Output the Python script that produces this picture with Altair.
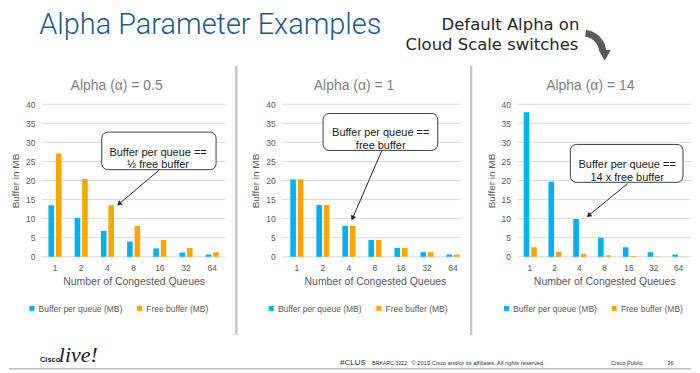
import altair as alt
import pandas as pd

# ---------------- data ----------------
queues = ["1", "2", "4", "8", "16", "32", "64"]
series_names = ["Buffer per queue (MB)", "Free buffer (MB)"]
series_colors = ["#00b0f0", "#ffa500"]

alpha_05_per_queue = [13.5, 10.2, 6.8, 4.0, 2.2, 1.1, 0.6]
alpha_05_free = [27.1, 20.4, 13.5, 8.1, 4.4, 2.3, 1.2]
alpha_1_per_queue = [20.3, 13.6, 8.1, 4.4, 2.3, 1.2, 0.6]
alpha_1_free = [20.3, 13.6, 8.1, 4.4, 2.3, 1.2, 0.6]
alpha_14_per_queue = [37.9, 19.7, 9.9, 5.0, 2.5, 1.2, 0.6]
alpha_14_free = [2.5, 1.3, 0.7, 0.4, 0.2, 0.1, 0.05]

panel_titles = ["Alpha (\u03b1) = 0.5", "Alpha (\u03b1) = 1", "Alpha (\u03b1) = 14"]
callout_texts = [
    "Buffer per queue ==\n\u00bd free buffer",
    "Buffer per queue ==\nfree buffer",
    "Buffer per queue ==\n14 x free buffer",
]
y_ticks = [0, 5, 10, 15, 20, 25, 30, 35, 40]

slide_title = "Alpha Parameter Examples"
side_note = ["Default Alpha on", "Cloud Scale switches"]
footer_items = ["#CLUS", "BRKARC-3222",
                "\u00a9 2019  Cisco and/or its affiliates. All rights reserved.",
                "Cisco Public", "36"]

# ---------------- styling ----------------
FONT = "Liberation Sans"
GRAY = "#595959"
one = pd.DataFrame({"k": [0]})


def txt(s, x, y, size, color, font=FONT, align="left", baseline="alphabetic",
        weight="normal", style="normal"):
    return alt.Chart(one).mark_text(
        text=s, font=font, fontSize=size, color=color, align=align,
        baseline=baseline, fontWeight=weight, fontStyle=style
    ).encode(x=alt.value(x), y=alt.value(y))


def panel(per_q, free, title, note, width, legend_x, box, note_xy, arrow, head,
          head_angle, title_x=73, x_range=None, extra=()):
    df = pd.DataFrame({
        "Queues": queues * 2,
        "Series": [series_names[0]] * len(queues) + [series_names[1]] * len(queues),
        "MB": per_q + free,
    })
    xs = dict(paddingInner=0.5, paddingOuter=0.25)
    if x_range is not None:
        xs["range"] = x_range
    yscale = alt.Scale(domain=[0, 40])
    yaxis = alt.Axis(values=y_ticks, title="Buffer in MB", domain=False,
                     ticks=False, tickSize=0, labelPadding=7, titlePadding=5,
                     grid=False, labelFontSize=8.5, titleFontSize=10)
    grid = alt.Chart(pd.DataFrame({"MB": y_ticks})).mark_rule(
        color="#d9d9d9", strokeWidth=1
    ).encode(y=alt.Y("MB:Q", scale=yscale, axis=yaxis),
             x=alt.value(0), x2=alt.value(width))
    bars = alt.Chart(df).mark_bar().encode(
        x=alt.X("Queues:N", sort=queues, scale=alt.Scale(**xs),
                axis=alt.Axis(title="Number of Congested Queues", labelAngle=0,
                              ticks=False, tickSize=0, labelPadding=7,
                              titlePadding=4, domain=False,
                              labelFontSize=8.5, titleFontSize=10.5)),
        xOffset=alt.XOffset("Series:N", sort=series_names,
                            scale=alt.Scale(paddingInner=0.25)),
        y=alt.Y("MB:Q", scale=yscale, axis=yaxis),
        color=alt.Color("Series:N", sort=series_names,
                        scale=alt.Scale(domain=series_names, range=series_colors),
                        legend=alt.Legend(title=None, orient="none", legendX=legend_x,
                                          legendY=200.5, direction="horizontal",
                                          symbolType="square", symbolSize=25,
                                          symbolStrokeWidth=0, labelFontSize=8.5,
                                          labelColor=GRAY, labelFont=FONT,
                                          columnPadding=13, labelOffset=2.5,
                                          padding=0)),
    )
    ttl = txt(title, title_x, -18.7, 14, "#7f7f7f", align="center", baseline="middle")
    rect = alt.Chart(one).mark_rect(
        fill="white", stroke="#404040", strokeWidth=1, cornerRadius=6
    ).encode(x=alt.value(box[0]), x2=alt.value(box[1]),
             y=alt.value(box[2]), y2=alt.value(box[3]))
    note_t = alt.Chart(one).mark_text(
        text=note, lineBreak="\n", lineHeight=12.8, font=FONT, fontSize=11,
        color="#1a1a1a", align="center", baseline="middle"
    ).encode(x=alt.value(note_xy[0]), y=alt.value(note_xy[1]))
    rule = alt.Chart(one).mark_rule(color="#262626", strokeWidth=1).encode(
        x=alt.value(arrow[0]), y=alt.value(arrow[1]),
        x2=alt.value(head[0]), y2=alt.value(head[1]))
    tri = alt.Chart(one).mark_point(
        shape="triangle", filled=True, size=32, angle=head_angle,
        color="#262626", opacity=1
    ).encode(x=alt.value(head[0]), y=alt.value(head[1]))
    layers = list(extra) + [grid, bars, ttl, rect, note_t, rule, tri]
    return alt.layer(*layers).properties(width=width, height=153)


# ------------- slide decorations (frame of panel 1 plot area) -------------
background = alt.Chart(one).mark_rect(fill="white", opacity=0.01).encode(
    x=alt.value(-33), x2=alt.value(651), y=alt.value(-95.7), y2=alt.value(268.3))
head_title = txt(slide_title, -2.7, -70.4, 29, "#1a5a8c", font="Roboto", weight=300)
note1 = txt(side_note[0], 539, -74, 16.5, "#262626", font="DejaVu Sans", align="right")
note2 = txt(side_note[1], 538, -54.4, 16.5, "#262626", font="DejaVu Sans", align="right")
curve = alt.Chart(one).mark_arc(
    theta=0.12, theta2=1.45, innerRadius=16, outerRadius=23, color="#595959"
).encode(x=alt.value(543), y=alt.value(-51.7))
curve_head = alt.Chart(one).mark_point(
    shape="triangle-down", filled=True, size=150, color="#595959", opacity=1
).encode(x=alt.value(564.5), y=alt.value(-49))
dividers = alt.Chart(pd.DataFrame({"dx": [195, 430.5]})).mark_rule(
    color="#c4c4c4", strokeWidth=2.5
).encode(x=alt.X("dx:Q", scale=None), y=alt.value(-38.7), y2=alt.value(231.3))
foot_line = alt.Chart(one).mark_rule(color="#bdbdbd", strokeWidth=1.5).encode(
    x=alt.value(-33), x2=alt.value(651), y=alt.value(265.3))
logo1 = txt("Cisco", -2, 259, 7.5, "#1a1a1a", weight="bold")
logo2 = txt("live!", 17, 258.3, 22, "#1a1a1a", font="Liberation Serif", style="italic")
f1 = txt(footer_items[0], 299, 262, 8, "#333333")
f2 = txt(footer_items[1], 331.3, 261.3, 5.2, "#333333")
f3 = txt(footer_items[2], 370.7, 261.3, 5.8, "#333333")
f4 = txt(footer_items[3], 570.7, 261.3, 5.8, "#333333")
f5 = txt(footer_items[4], 627.3, 261.3, 5.8, "#333333")

deco = [background, head_title, note1, note2, curve, curve_head, dividers,
        foot_line, logo1, logo2, f1, f2, f3, f4, f5]

p1 = panel(alpha_05_per_queue, alpha_05_free, panel_titles[0], callout_texts[0],
           184, -14.3, (60, 174.7, 28, 65.6), (116.5, 48.6),
           (117.3, 66.3), (78, 99.4), 230, title_x=75, extra=deco)
p2 = panel(alpha_1_per_queue, alpha_1_free, panel_titles[1], callout_texts[1],
           179, -15.3, (41, 156, 9.3, 46.3), (98.8, 29.1),
           (99.7, 47), (70.9, 113.5), 203, title_x=72, x_range=[1.6, 184.4])
p3 = panel(alpha_14_per_queue, alpha_14_free, panel_titles[2], callout_texts[2],
           174, -15.3, (53, 166, 40.3, 78.3), (110, 61.3),
           (110.3, 79.6), (72, 111.1), 231, title_x=73)

chart = alt.hconcat(p1, p2, p3, spacing=57, bounds="flush").resolve_scale(
    color="independent"
).resolve_legend(color="independent").properties(padding=0).configure_view(
    stroke=None
).configure_axis(
    labelFont=FONT, titleFont=FONT, labelColor=GRAY, titleColor=GRAY,
    titleFontWeight="normal"
)

chart.save("out.html", embed_options={"renderer": "svg", "actions": False})
